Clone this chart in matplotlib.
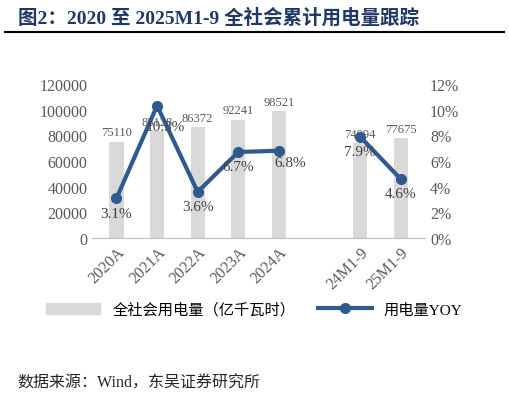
import matplotlib
matplotlib.use("Agg")
import matplotlib.pyplot as plt
import numpy as np

plt.rcParams['font.family'] = ['Liberation Serif', 'Noto Sans CJK SC', 'DejaVu Sans']

categories = ["2020A", "2021A", "2022A", "2023A", "2024A", "", "24M1-9", "25M1-9"]
consumption = [75110, 83128, 86372, 92241, 98521, None, 74094, 77675]
yoy = [3.1, 10.3, 3.6, 6.7, 6.8, None, 7.9, 4.6]

fig = plt.figure(figsize=(5.09, 4.02), dpi=100)
ax = fig.add_axes([0.181, 0.405, 0.654, 0.384])
ax2 = ax.twinx()

x = np.arange(len(categories))
bv = np.array([np.nan if v is None else v for v in consumption], float)
lv = np.array([np.nan if v is None else v for v in yoy], float)

ax.bar(x, bv, width=0.35, color="#d9d9d9", zorder=1)
for xi, v in zip(x, bv):
    if not np.isnan(v):
        ax.text(xi, v + 2500, f"{int(v)}", ha="center", va="bottom", fontsize=9, color="#595959")

ax2.plot(x[:5], lv[:5], color="#2e5a8e", lw=3, marker="o", ms=7)
ax2.plot(x[6:], lv[6:], color="#2e5a8e", lw=3, marker="o", ms=7)
offs = {1: (6, -10), 4: (8, -4)}
for xi, v in zip(x, lv):
    if not np.isnan(v):
        dx, dy = offs.get(xi, (0, -6))
        ax2.annotate(f"{v:.1f}%", (xi, v), xytext=(dx, dy), textcoords="offset points",
                     ha="center", va="top", fontsize=11, color="#404040")

ax.set_xlim(-0.6, 7.6)
ax.set_ylim(0, 120000)
ax.set_yticks(range(0, 120001, 20000))
ax2.set_ylim(0, 12)
ax2.set_yticks(range(0, 13, 2))
ax2.set_yticklabels([f"{t}%" for t in range(0, 13, 2)])
ax.set_xticks(x)
ax.set_xticklabels(categories, rotation=45, ha="right", rotation_mode="anchor")
for a in (ax, ax2):
    a.tick_params(colors="#595959", labelsize=11.5, length=0)
    for s in a.spines.values():
        s.set_visible(False)
ax.spines['bottom'].set_visible(True)
ax.spines['bottom'].set_color("#bfbfbf")
ax.tick_params(axis='x', pad=4)

from matplotlib.patches import Patch
from matplotlib.lines import Line2D
handles = [Patch(color="#d9d9d9"), Line2D([0], [0], color="#2e5a8e", lw=3, marker="o", ms=7)]
fig.legend(handles, ["全社会用电量（亿千瓦时）", "用电量YOY"], loc="center", bbox_to_anchor=(0.5, 0.228),
           ncol=2, frameon=False, handlelength=3.5, columnspacing=1.5,
           prop={'family': ['Liberation Serif', 'Noto Sans CJK SC'], 'size': 11})

fig.text(0.035, 0.955, "图2：2020 至 2025M1-9 全社会累计用电量跟踪", fontsize=14, fontweight="bold",
         color="#1f3864", va="center")
fig.add_artist(Line2D([0.01, 0.99], [0.918, 0.918], color="black", lw=1.5))
fig.text(0.035, 0.045, "数据来源：Wind，东吴证券研究所", fontsize=11.5, color="#262626", va="center")

fig.savefig("out.png", dpi=100)
